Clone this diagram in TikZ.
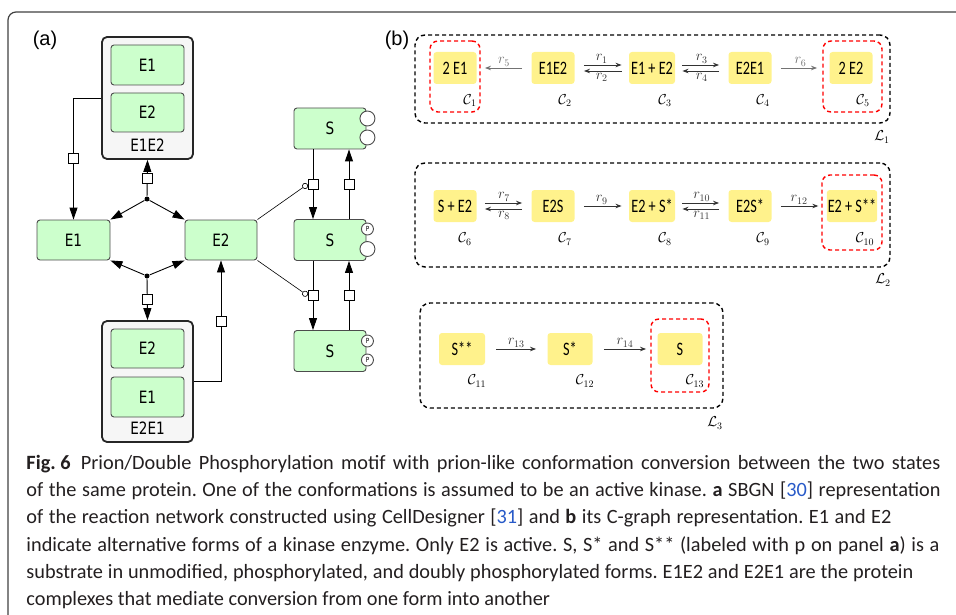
\documentclass[tikz,border=0pt]{standalone}
\usepackage{fontspec}
\setmainfont{Carlito}
\newfontfamily\sbgnfont[FakeStretch=0.8]{DejaVu Sans}
\newfontfamily\boxfont[FakeStretch=0.75]{Carlito}
\newfontfamily\tagfont{Liberation Sans}
\usetikzlibrary{arrows.meta,positioning,calc}
\definecolor{specgreen}{RGB}{204,255,204}
\definecolor{cplxgray}{RGB}{246,246,246}
\definecolor{cyellow}{RGB}{255,242,140}
\definecolor{citeblue}{RGB}{40,90,200}
\definecolor{captext}{RGB}{35,31,32}
\frenchspacing

\begin{document}
\begin{tikzpicture}[x=1pt,y=-1pt,line width=0.9pt,>={Triangle[length=12pt,width=8pt]},
  species/.style={draw=black!70,fill=specgreen,rounded corners=3pt,minimum width=73pt,minimum height=40pt,inner sep=0pt,font=\sbgnfont\fontsize{17}{19}\selectfont},
  cplx/.style={draw=black!85,line width=1.8pt,fill=cplxgray,rounded corners=5pt,minimum width=91pt,minimum height=122pt},
  process/.style={draw,fill=white,minimum size=10pt,inner sep=0pt},
  assoc/.style={circle,fill=black,minimum size=5pt,inner sep=0pt},
  site/.style={circle,draw=black!70,fill=white,minimum size=15pt,inner sep=0pt},
  psite/.style={circle,draw=black!70,fill=white,minimum size=12pt,inner sep=0pt,font=\sbgnfont\fontsize{7}{7}\selectfont},
  cnode/.style={fill=cyellow,rounded corners=3pt,minimum width=43pt,minimum height=32pt,inner sep=1pt,font=\boxfont\fontsize{19}{21}\selectfont},
  rxn/.style={-{Stealth[length=6pt,width=4.5pt]},line width=0.8pt,black!80,shorten <=9pt,shorten >=8pt},
  lbox/.style={draw,dash pattern=on 4pt off 3pt,line width=1.4pt,rounded corners=10pt},
  kbox/.style={draw=red,dash pattern=on 4pt off 3pt,line width=1.4pt,rounded corners=8pt},
  mlab/.style={font=\fontsize{14.4}{16}\selectfont,inner sep=1.5pt},
  capline/.style={anchor=base west,inner sep=0pt,text=captext,font=\fontsize{20.3}{24}\selectfont}]
  \useasboundingbox (0,0) rectangle (956,615);
  \draw[black!75,line width=1.2pt,rounded corners=8pt] (8,615) -- (8,12) -- (956,12);
  \node[font=\tagfont\fontsize{20}{22}\selectfont] (taga) at (45,40) {(a)};
  \node[font=\tagfont\fontsize{20}{22}\selectfont] (tagb) at (397,40) {(b)};

  % panel a
  \node[cplx] (E1E2) at (147.5,98) {};
  \node[species] (E1E2a) at (147.5,65) {E1};
  \node[species,minimum height=39pt] (E1E2b) at (147.5,112.5) {E2};
  \node[font=\sbgnfont\fontsize{17}{19}\selectfont] (E1E2lab) at (147.5,145.5) {E1E2};
  \node[cplx,minimum height=121pt] (E2E1) at (147.5,381.5) {};
  \node[species,minimum height=39pt] (E2E1a) at (147.5,348.5) {E2};
  \node[species] (E2E1b) at (147.5,397) {E1};
  \node[font=\sbgnfont\fontsize{17}{19}\selectfont] (E2E1lab) at (147.5,428.5) {E2E1};
  \node[species] (E1) at (73.5,240) {E1};
  \node[species,minimum width=72pt] (E2) at (221,240) {E2};
  \node[species,minimum width=72pt,minimum height=41pt] (S1) at (330,128.5) {S};
  \node[species,minimum width=72pt,minimum height=41pt] (S2) at (330,240) {S};
  \node[species,minimum width=72pt,minimum height=41pt] (S3) at (330,351) {S};
  \node[site] (S1a) at ([xshift=1pt,yshift=10pt]S1.east) {};
  \node[site] (S1b) at ([xshift=1pt,yshift=-9pt]S1.east) {};
  \node[psite] (S2a) at ([xshift=1pt,yshift=11pt]S2.east) {P};
  \node[site] (S2b) at ([xshift=1pt,yshift=-9pt]S2.east) {};
  \node[psite] (S3a) at ([xshift=1pt,yshift=10pt]S3.east) {P};
  \node[psite] (S3b) at ([xshift=1pt,yshift=-9pt]S3.east) {P};
  \node[assoc] (d1) at (147,199) {};
  \node[assoc] (d2) at (147,276) {};

  \draw[->] (E1E2.west) -| node[process,pos=0.75] (p1) {} (E1.north);
  \draw[->] (d1) -- node[process] (p2) {} (E1E2.south);
  \draw[->] (d1) -- (E1.north east);
  \draw[->] (d1) -- (E2.north west);
  \draw[->] (d2) -- (E1.south east);
  \draw[->] (d2) -- (E2.south west);
  \draw[->] (d2) -- node[process] (p3) {} (E2E1.north);
  \draw[->] (E2E1.east) -| node[process,pos=0.75] (p4) {} (E2.south);
  \draw[->] ([xshift=-17pt]S1.south) -- node[process] (q1) {} ([xshift=-17pt]S2.north);
  \draw[->] ([xshift=19pt]S2.north) -- node[process] (q2) {} ([xshift=19pt]S1.south);
  \draw[->] ([xshift=-17pt]S2.south) -- node[process] (q3) {} ([xshift=-17pt]S3.north);
  \draw[->] ([xshift=19pt]S3.north) -- node[process] (q4) {} ([xshift=19pt]S2.south);
  \draw[line width=0.6pt,-{Circle[length=6pt,fill=white]}] (E2.north east) -- (q1.west);
  \draw[line width=0.6pt,-{Circle[length=6pt,fill=white]}] (E2.south east) -- (q3.west);

  % panel b
  \node[lbox,minimum width=475pt,minimum height=88pt] (L1) at (652.5,79) {};
  \node[lbox,minimum width=475pt,minimum height=104pt] (L2) at (652.5,215) {};
  \node[lbox,minimum width=303pt,minimum height=105pt] (L3) at (571.5,355.5) {};
  \node[kbox,minimum width=50pt,minimum height=71pt] (K1) at (455,76.5) {};
  \node[kbox,minimum width=59pt,minimum height=71pt] (K5) at (852.5,76.5) {};
  \node[kbox,minimum width=60pt,minimum height=75pt] (K10) at (852,212.5) {};
  \node[kbox,minimum width=58pt,minimum height=73pt] (K13) at (680,355.5) {};

  \node[cnode] (c1) at (455,68) {2 E1};
  \node[cnode] (c2) at (553,68) {E1E2};
  \node[cnode,minimum width=46pt] (c3) at (652,68) {E1 + E2};
  \node[cnode] (c4) at (750,68) {E2E1};
  \node[cnode] (c5) at (851,68) {2 E2};
  \node[cnode] (c6) at (455,206) {S + E2};
  \node[cnode] (c7) at (553,206) {E2S};
  \node[cnode,minimum width=46pt] (c8) at (652,206) {E2 + S*};
  \node[cnode] (c9) at (750,206) {E2S*};
  \node[cnode,minimum width=50pt] (c10) at (852,206) {E2 + S**};
  \node[cnode,minimum width=46pt] (c11) at (462,349) {S**};
  \node[cnode,minimum width=45pt] (c12) at (570,349) {S*};
  \node[cnode,minimum width=45pt] (c13) at (680,349) {S};

  \node[mlab] (lc1) at (470,101) {$\mathcal{C}_1$};
  \node[mlab] (lc2) at (565,101) {$\mathcal{C}_2$};
  \node[mlab] (lc3) at (665,101) {$\mathcal{C}_3$};
  \node[mlab] (lc4) at (763,101) {$\mathcal{C}_4$};
  \node[mlab] (lc5) at (863,101) {$\mathcal{C}_5$};
  \node[mlab] (lc6) at (465,239) {$\mathcal{C}_6$};
  \node[mlab] (lc7) at (565,239) {$\mathcal{C}_7$};
  \node[mlab] (lc8) at (665,239) {$\mathcal{C}_8$};
  \node[mlab] (lc9) at (763,239) {$\mathcal{C}_9$};
  \node[mlab] (lc10) at (865,239) {$\mathcal{C}_{10}$};
  \node[mlab] (lc11) at (477,381) {$\mathcal{C}_{11}$};
  \node[mlab] (lc12) at (585,381) {$\mathcal{C}_{12}$};
  \node[mlab] (lc13) at (695,381) {$\mathcal{C}_{13}$};
  \node[mlab] (ll1) at (882,137) {$\mathcal{L}_1$};
  \node[mlab] (ll2) at (883,280) {$\mathcal{L}_2$};
  \node[mlab] (ll3) at (715,423) {$\mathcal{L}_3$};

  \draw[rxn,black!55] (c2.west) -- node[above,mlab] {$r_5$} (c1.east);
  \draw[rxn,shorten >=7pt] ([yshift=3pt]c2.east) -- node[above,mlab] {$r_1$} ([yshift=3pt]c3.west);
  \draw[rxn,shorten <=7pt,shorten >=9pt] ([yshift=-3pt]c3.west) -- node[below,mlab] {$r_2$} ([yshift=-3pt]c2.east);
  \draw[rxn,shorten <=7pt,shorten >=9pt] ([yshift=3pt]c3.east) -- node[above,mlab] {$r_3$} ([yshift=3pt]c4.west);
  \draw[rxn,shorten >=7pt] ([yshift=-3pt]c4.west) -- node[below,mlab] {$r_4$} ([yshift=-3pt]c3.east);
  \draw[rxn,black!55,shorten >=12pt] (c4.east) -- node[above,mlab] {$r_6$} (c5.west);
  \draw[rxn,shorten <=8pt,shorten >=9pt] ([yshift=3pt]c6.east) -- node[above,mlab] {$r_7$} ([yshift=3pt]c7.west);
  \draw[rxn,shorten <=9pt,shorten >=8pt] ([yshift=-3pt]c7.west) -- node[below,mlab] {$r_8$} ([yshift=-3pt]c6.east);
  \draw[rxn,shorten >=7pt] (c7.east) -- node[above,mlab] {$r_9$} (c8.west);
  \draw[rxn,shorten <=7pt,shorten >=9pt] ([yshift=3pt]c8.east) -- node[above,mlab] {$r_{10}$} ([yshift=3pt]c9.west);
  \draw[rxn,shorten >=7pt] ([yshift=-3pt]c9.west) -- node[below,mlab] {$r_{11}$} ([yshift=-3pt]c8.east);
  \draw[rxn] (c9.east) -- node[above,mlab] {$r_{12}$} (c10.west);
  \draw[rxn,shorten <=11pt,shorten >=11pt] (c11.east) -- node[above,mlab] {$r_{13}$} (c12.west);
  \draw[rxn,shorten <=11pt,shorten >=11pt] (c12.east) -- node[above,mlab] {$r_{14}$} (c13.west);

  % caption
  \node[capline] (cap1) at (26,469) {\makebox[914pt][s]{\mbox{\textbf{Fig. 6}}\enspace Prion/Double Phosphorylation motif with prion-like conformation conversion between the two states}};
  \node[capline] (cap2) at (26,496) {\makebox[914pt][s]{of the same protein. One of the conformations is assumed to be an active kinase. \textbf{a} SBGN [\textcolor{citeblue}{30}] representation}};
  \node[capline] (cap3) at (26,523) {\makebox[865pt][s]{of the reaction network constructed using CellDesigner [\textcolor{citeblue}{31}] and \textbf{b} its C-graph representation. E1 and E2}};
  \node[capline] (cap4) at (26,551) {\makebox[913pt][s]{indicate alternative forms of a kinase enzyme. Only E2 is active. S, S* and S** (labeled with p on panel \textbf{a}) is a}};
  \node[capline] (cap5) at (26,578) {\makebox[887pt][s]{substrate in unmodified, phosphorylated, and doubly phosphorylated forms. E1E2 and E2E1 are the protein}};
  \node[capline] (cap6) at (26,605) {complexes that mediate conversion from one form into another};
\end{tikzpicture}
\end{document}
